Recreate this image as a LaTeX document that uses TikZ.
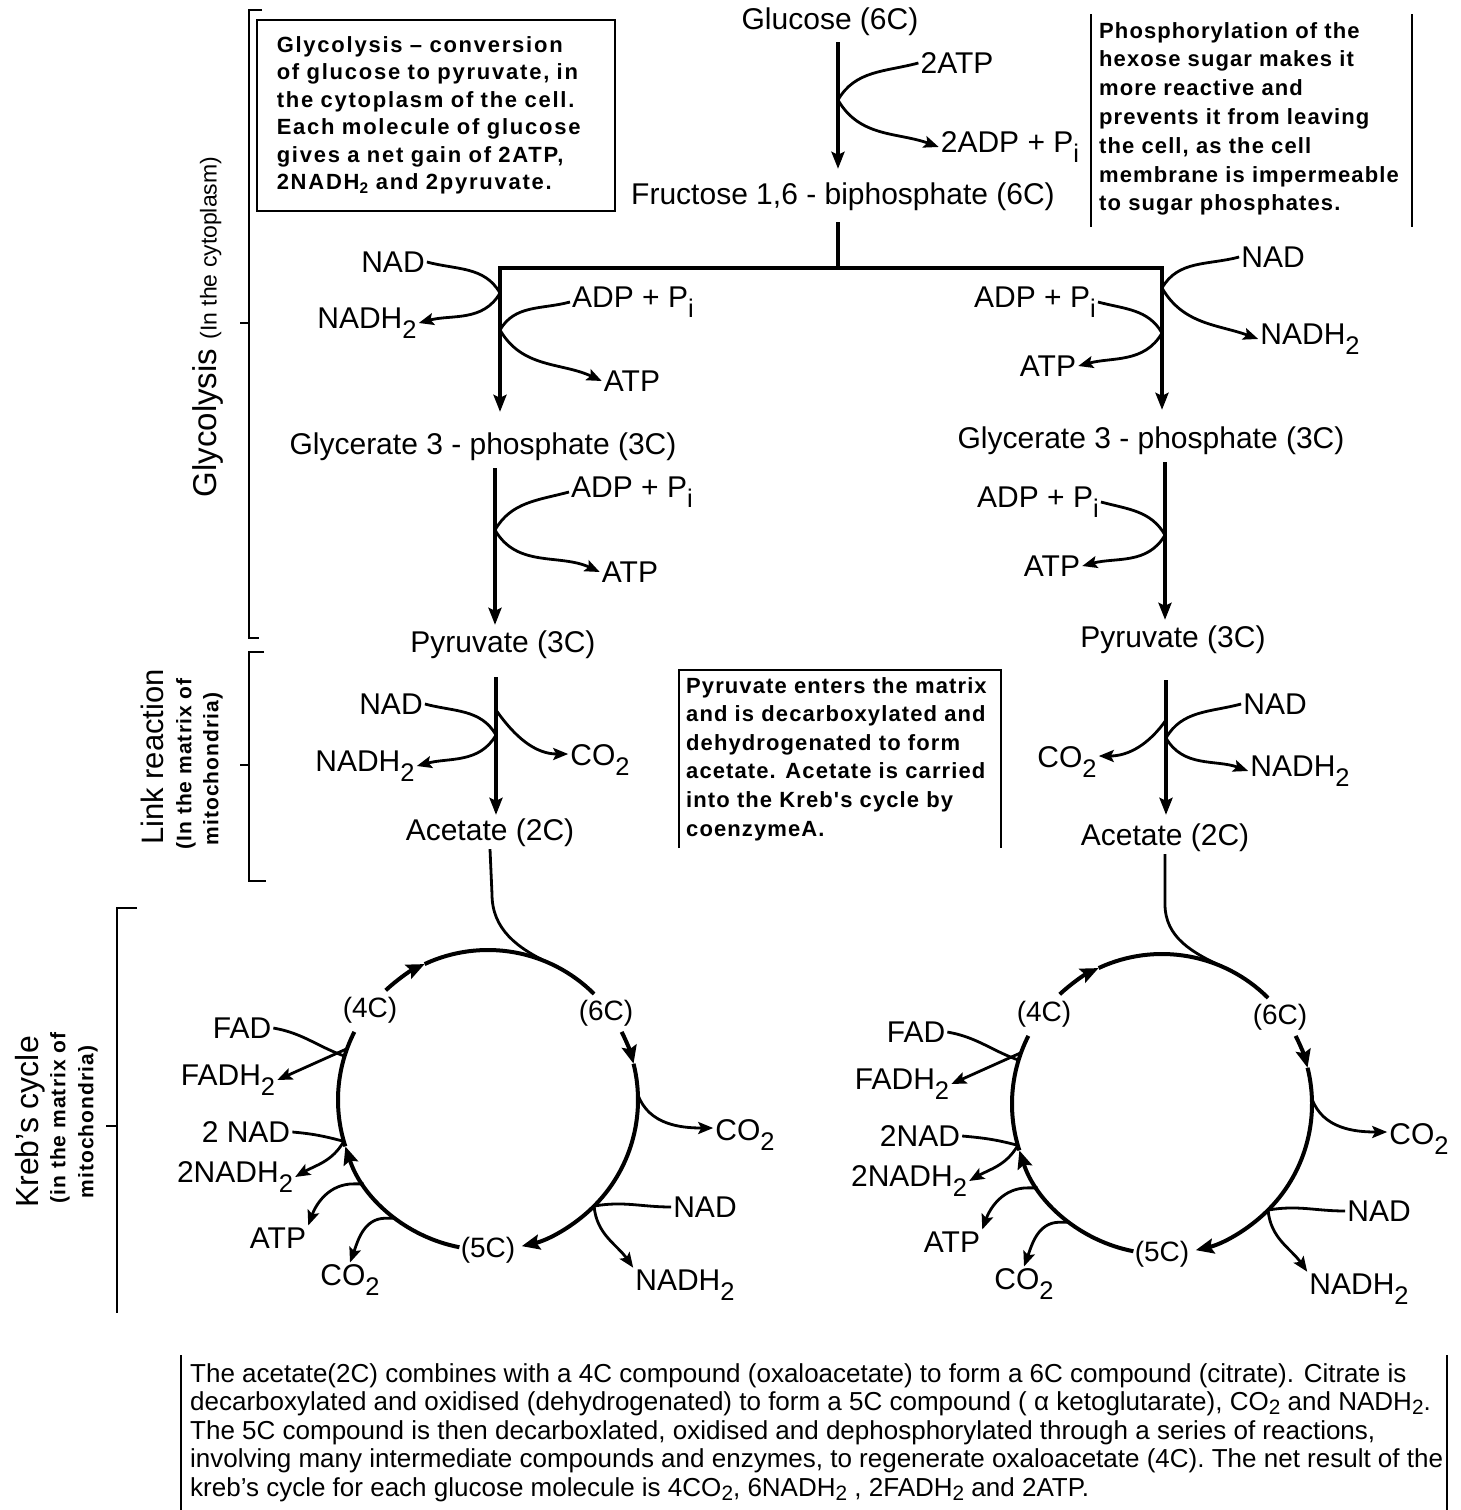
\documentclass[tikz,border=0pt]{standalone}
\usepackage{fontspec}
\usepackage{graphicx}
\setmainfont{Liberation Sans}
\newfontfamily\spacedA[LetterSpace=8]{Liberation Sans}
\newfontfamily\spacedB[LetterSpace=5]{Liberation Sans}
\usetikzlibrary{arrows.meta,calc}
\newcommand\lowsub[1]{\raisebox{-0.32em}{\scalebox{0.85}{#1}}}
\newcommand\bsub[1]{\raisebox{-0.16em}{\scalebox{0.8}{#1}}}
\tikzset{
  lbl/.style={font=\fontsize{30}{34}\selectfont, inner sep=2pt},
  clbl/.style={font=\fontsize{28}{32}\selectfont, inner sep=1pt},
  mainline/.style={line width=4pt},
  mainarrow/.style={line width=4pt, -{Stealth[length=17pt,width=13pt,inset=3pt]}},
  br/.style={line width=2.8pt},
  bra/.style={br, -{Stealth[length=15pt,width=12pt,inset=3pt]}},
  ring/.style={line width=4pt},
  ringa/.style={ring, -{Stealth[length=18pt,width=15pt,inset=3pt]}},
  frame/.style={line width=1.5pt},
  kreb/.pic={
    \node[clbl] (-c4) at (-118,90) {(4C)};
    \node[clbl] (-c6) at (118,87) {(6C)};
    \node[clbl] (-c5) at (0,-150) {(5C)};
    \node[lbl] (-fad) at (-246,72) {FAD};
    \node[lbl] (-fadh) at (-260,20) {FADH\lowsub{2}};
    \node[lbl] (-nadb) at (-242,-32) {#1};
    \node[lbl] (-nadhb) at (-253,-77) {2NADH\lowsub{2}};
    \node[lbl] (-atp) at (-210,-138) {ATP};
    \node[lbl] (-co2a) at (-138,-180) {CO\lowsub{2}};
    \node[lbl] (-nad) at (217,-107) {NAD};
    \node[lbl] (-nadh) at (197,-185) {NADH\lowsub{2}};
    \node[lbl] (-co2b) at (257,-35) {CO\lowsub{2}};
    \coordinate (-entry) at (66:150);
    \coordinate (-jf) at (163:150);
    \coordinate (-jf2) at (160:150);
    \coordinate (-jn) at (-164:150);
    \coordinate (-ja) at (-146:150);
    \coordinate (-jc) at (-128:150);
    \coordinate (-jr) at (2:150);
    \coordinate (-jnr) at (-45:150);
    \draw[ringa] (133:150) arc[start angle=133, end angle=115, radius=150];
    \draw[ring] (115:150) arc[start angle=115, end angle=45, radius=150];
    \draw[ringa] (27:150) arc[start angle=27, end angle=14, radius=150];
    \draw[ringa] (14:150) arc[start angle=14, end angle=-77, radius=150];
    \draw[ringa] (-101:150) arc[start angle=-101, end angle=-162, radius=150];
    \draw[ring] (-162:150) arc[start angle=-162, end angle=-207, radius=150];
    \draw[br] (-fad.east) to[out=-10,in=160] (-jf);
    \draw[bra] (-jf2) -- (-fadh.east);
    \draw[br] (-nadb.east) to[out=-5,in=165] (-jn);
    \draw[bra] (-jn) to[out=-120,in=30] (-nadhb.east);
    \draw[bra] (-ja) -- ++(-10,0) to[out=180,in=70] (-atp.north east);
    \draw[bra] (-jc) -- ++(-10,0) to[out=180,in=70] (-co2a.north);
    \draw[bra] (-jr) to[out=-70,in=180] ([yshift=7pt]-co2b.west);
    \draw[br] (-nad.west) to[out=180,in=10] (-jnr);
    \draw[bra] (-jnr) to[out=-85,in=125] (-nadh.north west);
  }
}
\begin{document}
\begin{tikzpicture}[x=1pt,y=1pt]
\useasboundingbox (0,0) rectangle (1460,-1510);

% ---------- top ----------
\node[lbl] (glu) at (830,-22) {Glucose (6C)};
\node[lbl] (atp0) at (957,-63) {2ATP};
\node[lbl] (adp0) at (1010,-147) {2ADP + P\lowsub{i}};
\node[lbl] (fru) at (843,-197) {Fructose 1,6 - biphosphate (6C)};
\coordinate (j0) at (838,-100);
\draw[mainarrow, shorten <=4pt, shorten >=12pt] (j0 |- glu.south) -- (j0 |- fru.north);
\draw[bra] (atp0.west) to[out=195,in=60] (j0) to[out=-60,in=160] (adp0.west);

% ---------- first split ----------
\node[lbl] (gly1L) at (483,-447) {Glycerate 3 - phosphate (3C)};
\node[lbl] (gly1R) at (1151,-441) {Glycerate 3 - phosphate (3C)};
\coordinate (barC) at (838,-268);
\coordinate (barL) at (500,-268);
\coordinate (barR) at (1162,-268);
\draw[mainline, shorten <=9pt] (j0 |- fru.south) -- (barC);
\draw[mainarrow, shorten >=19pt] (barC) -- (barL) -- (barL |- gly1L.north);
\draw[mainarrow, shorten >=15pt] (barC) -- (barR) -- (barR |- gly1R.north);

\node[lbl] (nad1L) at (393,-262) {NAD};
\node[lbl] (nadh1L) at (367,-323) {NADH\lowsub{2}};
\node[lbl] (adp1L) at (633,-302) {ADP + P\lowsub{i}};
\node[lbl] (atp1L) at (632,-381) {ATP};
\coordinate (jn1L) at (500,-293);
\coordinate (ja1L) at (500,-330);
\draw[bra] (nad1L.east) to[out=-15,in=120] (jn1L) to[out=-120,in=15] (nadh1L.east);
\draw[bra] (adp1L.west) to[out=195,in=60] (ja1L) to[out=-60,in=155] (atp1L.west);

\node[lbl] (nad1R) at (1273,-257) {NAD};
\node[lbl] (nadh1R) at (1310,-339) {NADH\lowsub{2}};
\node[lbl] (adp1R) at (1035,-302) {ADP + P\lowsub{i}};
\node[lbl] (atp1R) at (1048,-366) {ATP};
\coordinate (jn1R) at (1162,-288);
\coordinate (ja1R) at (1162,-333);
\draw[bra] (nad1R.west) to[out=195,in=60] (jn1R) to[out=-60,in=160] (nadh1R.west);
\draw[bra] (adp1R.east) to[out=-15,in=120] (ja1R) to[out=-120,in=15] (atp1R.east);

% ---------- glycerate -> pyruvate ----------
\node[lbl] (adp2L) at (632,-492) {ADP + P\lowsub{i}};
\node[lbl] (atp2L) at (630,-572) {ATP};
\coordinate (ja2L) at (495,-530);
\node[lbl] (pyrL) at (503,-645) {Pyruvate (3C)};
\draw[mainarrow, shorten <=5pt, shorten >=4pt] (ja2L |- gly1L.south) -- (ja2L |- pyrL.north);
\draw[bra] (adp2L.west) to[out=195,in=60] (ja2L) to[out=-60,in=155] (atp2L.west);

\node[lbl] (adp2R) at (1038,-502) {ADP + P\lowsub{i}};
\node[lbl] (atp2R) at (1052,-566) {ATP};
\coordinate (ja2R) at (1165,-535);
\node[lbl] (pyrR) at (1173,-640) {Pyruvate (3C)};
\draw[mainarrow, shorten <=5pt, shorten >=4pt] (ja2R |- gly1R.south) -- (ja2R |- pyrR.north);
\draw[bra] (adp2R.east) to[out=-15,in=120] (ja2R) to[out=-120,in=15] (atp2R.east);

% ---------- link reaction ----------
\node[lbl] (nad3L) at (391,-704) {NAD};
\node[lbl] (nadh3L) at (365,-766) {NADH\lowsub{2}};
\node[lbl] (co2L) at (600,-760) {CO\lowsub{2}};
\node[lbl] (acetL) at (490,-833) {Acetate (2C)};
\coordinate (jn3L) at (496,-735);
\coordinate (jc3L) at (496,-710);
\draw[mainarrow, shorten <=16pt, shorten >=2pt] (jn3L |- pyrL.south) -- (jn3L |- acetL.north);
\draw[bra] (nad3L.east) to[out=-15,in=120] (jn3L) to[out=-120,in=15] (nadh3L.east);
\draw[bra] (jc3L) to[out=-55,in=180] ([yshift=6pt]co2L.west);

\node[lbl] (nad3R) at (1275,-704) {NAD};
\node[lbl] (nadh3R) at (1300,-771) {NADH\lowsub{2}};
\node[lbl] (co2R) at (1067,-762) {CO\lowsub{2}};
\node[lbl] (acetR) at (1165,-838) {Acetate (2C)};
\coordinate (jn3R) at (1166,-738);
\coordinate (jc3R) at (1166,-720);
\draw[mainarrow, shorten <=24pt, shorten >=7pt] (jn3R |- pyrR.south) -- (jn3R |- acetR.north);
\draw[bra] (nad3R.west) to[out=195,in=60] (jn3R) to[out=-60,in=160] (nadh3R.west);
\draw[bra] (jc3R) to[out=-125,in=0] ([yshift=6pt]co2R.east);

% ---------- Krebs cycles ----------
\pic (kL) at (488,-1100) {kreb={2 NAD}};
\pic (kR) at (1162,-1104) {kreb={2NAD}};
\draw[br] (acetL.south) -- ++(2,-45) to[out=-90,in=155] (kL-entry);
\draw[br] (acetR.south) -- ++(0,-50) to[out=-90,in=155] (kR-entry);

% ---------- brackets and side labels ----------
\draw[frame] (262,-10) -- (249,-10) -- (249,-638) -- (259,-638);
\draw[frame] (249,-323) -- (240,-323);
\draw[frame] (264,-652) -- (249,-652) -- (249,-881) -- (266,-881);
\draw[frame] (249,-765) -- (240,-765);
\draw[frame] (137,-908) -- (117,-908) -- (117,-1313);
\draw[frame] (117,-1126) -- (106,-1126);

\node[rotate=90, font=\fontsize{33}{36}\selectfont] (glyLab) at (208,-327) {Glycolysis {\fontsize{23}{26}\selectfont (In the cytoplasm)}};
\node[rotate=90, font=\fontsize{31}{34}\selectfont] (linkLab) at (152,-757) {Link reaction};
\node[rotate=90, font=\spacedB\bfseries\fontsize{21}{24}\selectfont] (linkSub1) at (186,-764) {(In the matrix of};
\node[rotate=90, font=\spacedB\bfseries\fontsize{21}{24}\selectfont] (linkSub2) at (213,-769) {mitochondria)};
\node[rotate=90, font=\fontsize{32}{34}\selectfont] (krebLab) at (30,-1122) {Kreb's cycle};
\node[rotate=90, font=\spacedB\bfseries\fontsize{21}{24}\selectfont] (krebSub1) at (60,-1118) {(in the matrix of};
\node[rotate=90, font=\spacedB\bfseries\fontsize{21}{24}\selectfont] (krebSub2) at (88,-1122) {mitochondria)};

% ---------- text boxes ----------
\node[draw, frame, anchor=north west, minimum width=358pt, minimum height=191pt, text width=318pt, inner xsep=20pt, inner ysep=0pt, align=left, font=\spacedA\bfseries\fontsize{22}{27.5}\selectfont] (boxA) at (256,-19)
 {Glycolysis – conversion\\ of glucose to pyruvate, in\\ the cytoplasm of the cell.\\ Each molecule of glucose\\ gives a net gain of 2ATP,\\ 2NADH\textsubscript{2} and 2pyruvate.};

\draw[frame] (1091,-14) -- (1091,-227);
\draw[frame] (1412,-14) -- (1412,-227);
\node[anchor=north west, inner sep=0pt, align=left, font=\spacedB\bfseries\fontsize{22}{28.8}\selectfont] (boxB) at (1099,-22)
 {Phosphorylation of the\\ hexose sugar makes it\\ more reactive and\\ prevents it from leaving\\ the cell, as the cell\\ membrane is impermeable\\ to sugar phosphates.};

\draw[frame] (679,-848) -- (679,-670) -- (1001,-670) -- (1001,-848);
\node[anchor=north west, inner sep=0pt, align=left, font=\spacedB\bfseries\fontsize{22}{28.6}\selectfont] (boxC) at (686,-677)
 {Pyruvate enters the matrix\\ and is decarboxylated and\\ dehydrogenated to form\\ acetate. Acetate is carried\\ into the Kreb's cycle by\\ coenzymeA.};

\draw[frame] (181,-1355) -- (181,-1510);
\draw[frame] (1447,-1355) -- (1447,-1510);
\node[anchor=north west, inner sep=0pt, align=left, font=\fontsize{26}{28.6}\selectfont] (boxD) at (190,-1363)
 {The acetate(2C) combines with a 4C compound (oxaloacetate) to form a 6C compound (citrate). Citrate is\\
  decarboxylated and oxidised (dehydrogenated) to form a 5C compound ( α ketoglutarate), CO\bsub{2} and NADH\bsub{2}.\\
  The 5C compound is then decarboxlated, oxidised and dephosphorylated through a series of reactions,\\
  involving many intermediate compounds and enzymes, to regenerate oxaloacetate (4C). The net result of the\\
  kreb's cycle for each glucose molecule is 4CO\bsub{2}, 6NADH\bsub{2} , 2FADH\bsub{2} and 2ATP.};
\end{tikzpicture}
\end{document}
